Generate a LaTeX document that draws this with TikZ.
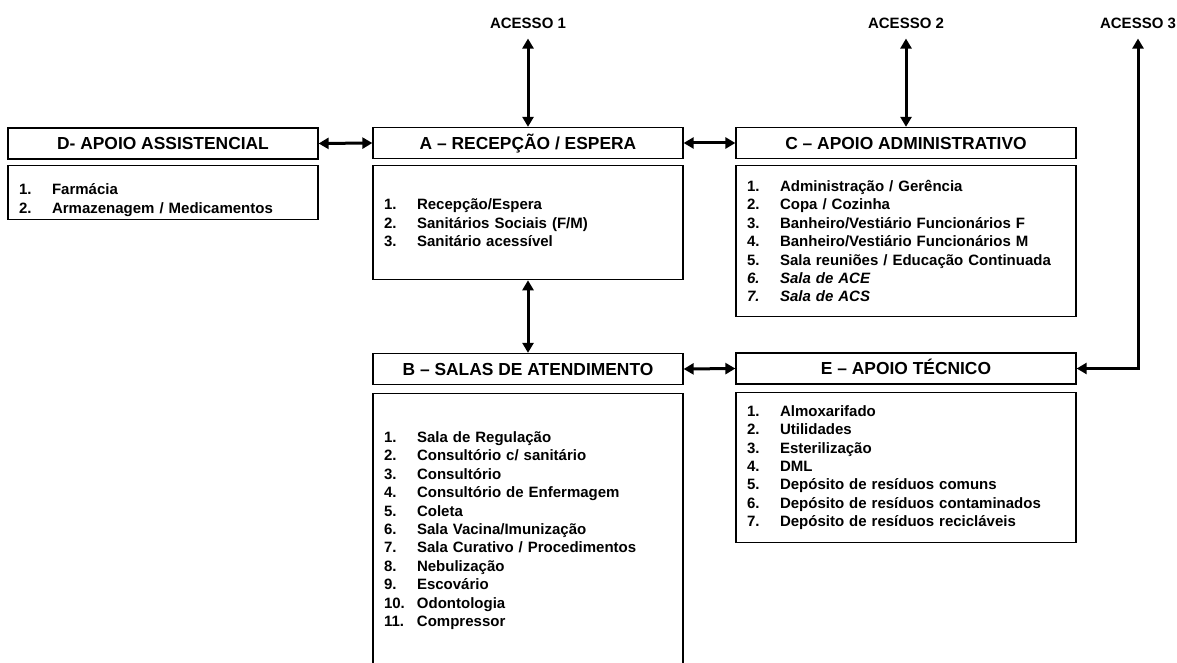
\documentclass[tikz,border=0pt]{standalone}
\usepackage{fontspec}
\setmainfont{Liberation Sans}
\usepackage{tikz}
\usetikzlibrary{arrows.meta}

\newcommand{\itm}[2]{\makebox[33pt][l]{#1}#2}

\tikzset{
    hdr/.style={draw, line width=1.3pt, minimum height=31pt, inner sep=0pt, text height=12.5pt, text depth=0pt, font=\fontsize{17.4}{20}\selectfont\bfseries},
    lst/.style={draw, line width=1.3pt, anchor=north, inner xsep=11pt, inner ysep=0pt, align=left, font=\fontsize{15}{18.4}\selectfont\bfseries},
    acc/.style={inner xsep=0pt, inner ysep=10pt, text height=10.7pt, text depth=0pt, font=\fontsize{15}{18}\selectfont\bfseries},
    conn/.style={line width=3pt, {Triangle[length=10pt,width=11pt]}-{Triangle[length=10pt,width=11pt]}}
}

\begin{document}
\begin{tikzpicture}[x=1pt, y=-1pt]
            \useasboundingbox (0, 0) rectangle (1177, 663);

            % draw access labels
            \node[acc] (acc1) at (528, 23) {ACESSO 1};
            \node[acc] (acc2) at (906, 23) {ACESSO 2};
            \node[acc] (acc3) at (1138, 23) {ACESSO 3};

            % draw headers
            \node[hdr, minimum width=310pt] (dh) at (163, 143.5) {D- APOIO ASSISTENCIAL};
            \node[hdr, minimum width=310pt] (ah) at (528, 143) {A -- RECEPÇÃO / ESPERA};
            \node[hdr, minimum width=340pt] (ch) at (906, 143) {C -- APOIO ADMINISTRATIVO};
            \node[hdr, minimum width=310pt] (bh) at (528, 369) {B -- SALAS DE ATENDIMENTO};
            \node[hdr, minimum width=340pt] (eh) at (906, 368.5) {E -- APOIO TÉCNICO};

            % draw lists
            \node[lst, text width=288pt, minimum height=54pt] (db) at (163, 165) {%
                \rule{0pt}{26pt}\itm{1.}{Farmácia}\\
                \itm{2.}{Armazenagem / Medicamentos}};
            \node[lst, text width=288pt, minimum height=114pt] (ab) at (528, 165) {%
                \itm{1.}{Recepção/Espera}\\
                \itm{2.}{Sanitários Sociais (F/M)}\\
                \itm{3.}{Sanitário acessível}};
            \node[lst, text width=318pt, minimum height=151pt] (cb) at (906, 165) {%
                \itm{1.}{Administração / Gerência}\\
                \itm{2.}{Copa / Cozinha}\\
                \itm{3.}{Banheiro/Vestiário Funcionários F}\\
                \itm{4.}{Banheiro/Vestiário Funcionários M}\\
                \itm{5.}{Sala reuniões / Educação Continuada}\\
                {\itshape\itm{6.}{Sala de ACE}}\\
                {\itshape\itm{7.}{Sala de ACS}}};
            \node[lst, text width=288pt, minimum height=274pt] (bb) at (528, 393) {%
                \itm{1.}{Sala de Regulação}\\
                \itm{2.}{Consultório c/ sanitário}\\
                \itm{3.}{Consultório}\\
                \itm{4.}{Consultório de Enfermagem}\\
                \itm{5.}{Coleta}\\
                \itm{6.}{Sala Vacina/Imunização}\\
                \itm{7.}{Sala Curativo / Procedimentos}\\
                \itm{8.}{Nebulização}\\
                \itm{9.}{Escovário}\\
                \itm{10.}{Odontologia}\\
                \itm{11.}{Compressor}};
            \node[lst, text width=318pt, minimum height=150pt] (eb) at (906, 392) {%
                \itm{1.}{Almoxarifado}\\
                \itm{2.}{Utilidades}\\
                \itm{3.}{Esterilização}\\
                \itm{4.}{DML}\\
                \itm{5.}{Depósito de resíduos comuns}\\
                \itm{6.}{Depósito de resíduos contaminados}\\
                \itm{7.}{Depósito de resíduos recicláveis}};

            % draw arrows
            \draw[conn] (acc1.south) -- (ah.north);
            \draw[conn] (acc2.south) -- (ch.north);
            \draw[conn] (acc3.south) |- (eh.east);
            \draw[conn] (dh.east) -- (ah.west);
            \draw[conn] (ah.east) -- (ch.west);
            \draw[conn] (ab.south) -- (bh.north);
            \draw[conn] (bh.east) -- (eh.west);
        \end{tikzpicture}
\end{document}
